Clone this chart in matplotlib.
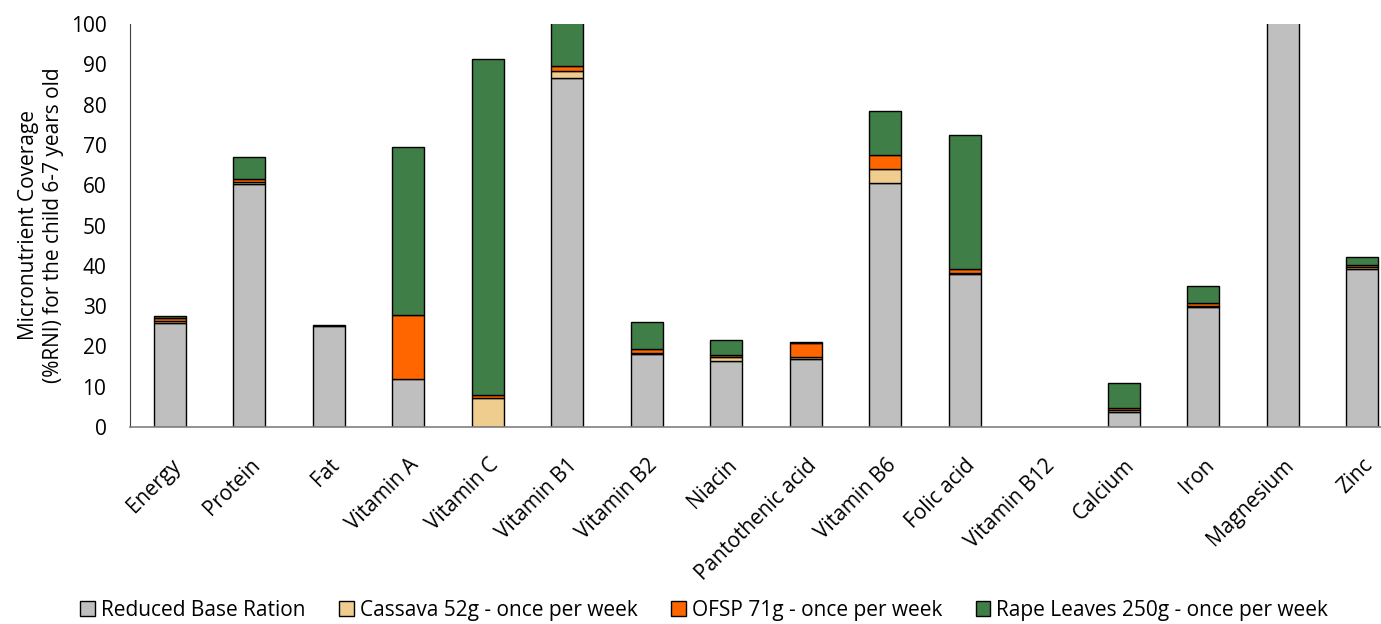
import numpy as np
import matplotlib.pyplot as plt

plt.rcParams['font.family'] = ['Open Sans', 'DejaVu Sans']

categories = ["Energy", "Protein", "Fat", "Vitamin A", "Vitamin C", "Vitamin B1",
              "Vitamin B2", "Niacin", "Pantothenic acid", "Vitamin B6", "Folic acid",
              "Vitamin B12", "Calcium", "Iron", "Magnesium", "Zinc"]

base = [25.8, 60.3, 25.1, 11.9, 0.0, 86.6, 18.1, 16.5, 16.9, 60.5, 38.0, 0.0, 3.8, 29.7, 120.0, 39.3]
cassava = [0.5, 0.5, 0.0, 0.0, 7.2, 1.7, 0.3, 0.8, 0.5, 3.6, 0.3, 0.0, 0.3, 0.4, 0.0, 0.4]
ofsp = [0.7, 0.8, 0.0, 15.9, 0.8, 1.2, 1.0, 0.6, 3.4, 3.4, 0.8, 0.0, 0.7, 0.7, 0.0, 0.6]
rape = [0.5, 5.4, 0.3, 41.7, 83.3, 12.0, 6.6, 3.7, 0.2, 10.8, 33.4, 0.0, 6.0, 4.2, 0.0, 1.8]

series = [("Reduced Base Ration", base, "#BFBFBF"),
          ("Cassava 52g - once per week", cassava, "#EECD8F"),
          ("OFSP 71g - once per week", ofsp, "#FF6600"),
          ("Rape Leaves 250g - once per week", rape, "#3F7F47")]

fig = plt.figure(figsize=(13.81, 6.24), dpi=100)
ax = fig.add_axes([130 / 1381, 1 - 427 / 624, 1272 / 1381, (427 - 24) / 624])

x = np.arange(len(categories))
bottom = np.zeros(len(categories))
for name, vals, col in series:
    # no outline for empty segments
    lw = [1 if v > 0 else 0 for v in vals]
    ax.bar(x, vals, 0.4, bottom=bottom, color=col, edgecolor="black",
           linewidth=lw, label=name)
    bottom += np.array(vals)

ax.set_xlim(-0.5, len(categories) - 0.5)
ax.set_ylim(0, 100)
ax.set_yticks(range(0, 101, 10))
ax.set_xticks(x)
ax.set_xticklabels(categories, rotation=45, ha="right", rotation_mode="anchor")
ax.tick_params(axis="both", labelsize=15, length=0, colors="black")
ax.tick_params(axis="x", pad=20)
ax.tick_params(axis="y", pad=17)
for s in ["top", "right"]:
    ax.spines[s].set_visible(False)
ax.spines["left"].set_color("#404040")
ax.spines["bottom"].set_color("#808080")
ax.spines["bottom"].set_linewidth(1.2)

ax.set_ylabel("Micronutrient Coverage\n(%RNI) for the child 6-7 years old",
              fontsize=15, labelpad=5)

leg = fig.legend(loc="lower center", bbox_to_anchor=(0.51, -0.025), ncol=4, frameon=False,
                 fontsize=15, handlelength=0.7, handleheight=0.7, handletextpad=0.3,
                 columnspacing=1.6)
for h in leg.legend_handles:
    h.set_linewidth(1)

fig.savefig("out.png", dpi=100)
